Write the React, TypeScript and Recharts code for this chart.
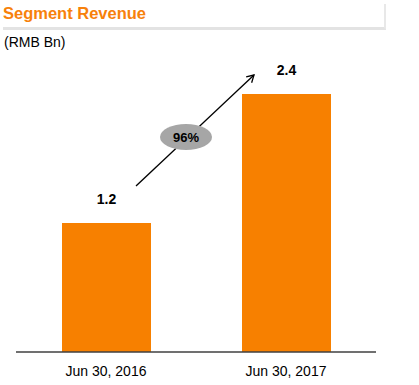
import React from 'react';
import { BarChart, Bar, XAxis, YAxis, LabelList, Customized } from 'recharts';

const periods = ['Jun 30, 2016', 'Jun 30, 2017'];
const revenue = [1.2, 2.4];
const growthLabel = '96%';

const data = periods.map((period, i) => ({ period, revenue: revenue[i] }));

const ORANGE = '#F78000';
const FONT = '"Liberation Sans", Arial, sans-serif';

// growth arrow with the grey percentage badge
const GrowthArrow = () => (
  <g>
    <defs>
      <marker id="arrowHead" markerWidth="10" markerHeight="10" refX="8" refY="5" orient="auto" markerUnits="userSpaceOnUse">
        <path d="M1,1 L8,5 L1,9" fill="none" stroke="#000" strokeWidth={1.3} />
      </marker>
    </defs>
    <line x1={136} y1={186} x2={254} y2={75} stroke="#000" strokeWidth={1.3} markerEnd="url(#arrowHead)" />
    <ellipse cx={186} cy={137} rx={26} ry={13} fill="#A6A6A6" />
    <text x={186} y={142} textAnchor="middle" fontFamily={FONT} fontSize={13} fontWeight="bold" fill="#000">
      {growthLabel}
    </text>
  </g>
);

const App: React.FC = () => {
  return (
    <div style={{ position: 'absolute', left: 0, top: 0, width: 419, height: 385, background: '#fff', fontFamily: FONT }}>
      <div style={{ position: 'absolute', left: 3, top: 4, width: 381, height: 23, borderBottom: '3px solid #E3E3E3', borderRight: '2px solid #E8E8E8' }}>
        <span style={{ color: '#F7810B', fontSize: 16.5, fontWeight: 'bold', lineHeight: '18px' }}>Segment Revenue</span>
      </div>
      <div style={{ position: 'absolute', left: 4, top: 34, fontSize: 14, color: '#000' }}>(RMB Bn)</div>
      <BarChart
        width={419}
        height={385}
        data={data}
        margin={{ top: 94, right: 43, left: 16, bottom: 3 }}
        style={{ position: 'absolute', left: 0, top: 0 }}
      >
        <XAxis
          dataKey="period"
          height={30}
          axisLine={{ stroke: '#404040', strokeWidth: 1.3 }}
          tickLine={false}
          tick={{ fill: '#000', fontSize: 14, fontFamily: FONT }}
          dy={6}
        />
        <YAxis hide domain={[0, 2.4]} />
        <Bar dataKey="revenue" fill={ORANGE} barSize={89} isAnimationActive={false}>
          <LabelList
            dataKey="revenue"
            position="top"
            offset={19}
            fill="#000"
            fontSize={14}
            fontWeight="bold"
            fontFamily={FONT}
            formatter={(v: number) => v.toFixed(1)}
          />
        </Bar>
        <Customized component={GrowthArrow} />
      </BarChart>
    </div>
  );
};

export default App;
